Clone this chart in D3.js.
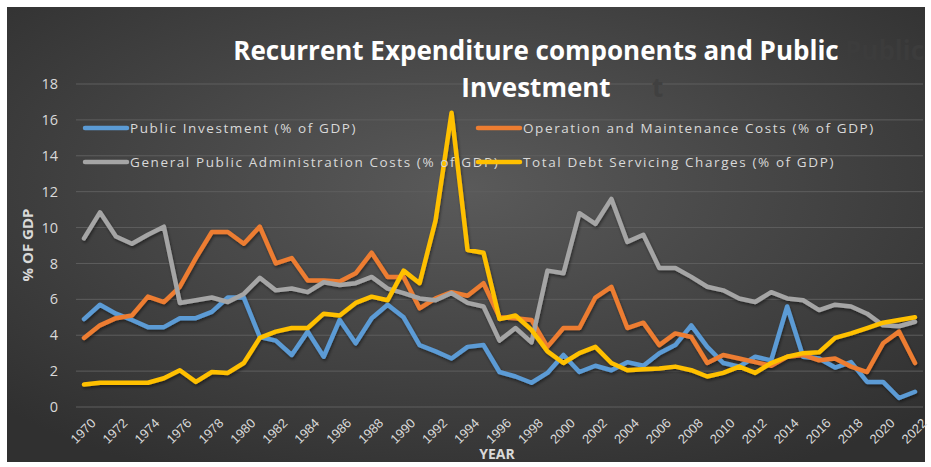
<!DOCTYPE html>
<html>
<head>
<meta charset="utf-8">
<script src="https://cdn.jsdelivr.net/npm/d3@7"></script>
<style>
  body { margin: 0; background: #fff; }
  svg { display: block; font-family: "Open Sans", sans-serif; }
</style>
</head>
<body>
<svg id="chart" width="931" height="467"></svg>
<script>
var years = d3.range(1970, 2023);
var tickYears = d3.range(1970, 2023, 2);
var yTicks = d3.range(0, 19, 2);

var publicInvestment = [4.9, 5.7, 5.2, 4.85, 4.45, 4.45, 4.95, 4.95, 5.3, 6.1,
    6.1, 3.9, 3.7, 2.9, 4.2, 2.8, 4.85, 3.55, 4.95, 5.7,
    5.0, 3.45, 3.1, 2.7, 3.35, 3.45, 1.95, 1.7, 1.35, 1.9,
    2.9, 1.95, 2.3, 2.05, 2.5, 2.3, 3.0, 3.45, 4.55, 3.35,
    2.45, 2.25, 2.8, 2.6, 5.6, 2.8, 2.7, 2.2, 2.5, 1.4,
    1.4, 0.5, 0.85];
var operationMaintenance = [3.85, 4.55, 4.95, 5.1, 6.15, 5.85, 6.7, 8.3, 9.75, 9.75,
    9.1, 10.05, 8.0, 8.3, 7.05, 7.05, 7.0, 7.45, 8.6, 7.25,
    7.25, 5.5, 6.05, 6.4, 6.2, 6.9, 5.0, 4.95, 4.85, 3.35,
    4.4, 4.4, 6.1, 6.7, 4.4, 4.7, 3.45, 4.1, 3.9, 2.45,
    2.9, 2.7, 2.5, 2.3, 2.8, 2.9, 2.6, 2.7, 2.25, 1.95,
    3.55, 4.2, 2.45];
var generalAdmin = [9.4, 10.85, 9.5, 9.1, 9.6, 10.05, 5.8, 5.95, 6.1, 5.85,
    6.3, 7.2, 6.5, 6.6, 6.4, 6.95, 6.8, 6.9, 7.25, 6.6,
    6.35, 6.05, 5.95, 6.35, 5.8, 5.6, 3.7, 4.4, 3.6, 7.6,
    7.45, 10.8, 10.2, 11.6, 9.2, 9.6, 7.75, 7.75, 7.25, 6.7,
    6.5, 6.05, 5.85, 6.4, 6.05, 5.95, 5.4, 5.7, 5.6, 5.2,
    4.55, 4.5, 4.75];
var debtServicing = [1.25, 1.35, 1.35, 1.35, 1.35, 1.6, 2.05, 1.4, 1.95, 1.9,
    2.45, 3.85, 4.2, 4.4, 4.4, 5.2, 5.1, 5.8, 6.15, 5.95,
    7.6, 6.9, 10.4, 16.4, 8.75, 8.6, 4.9, 5.1, 4.3, 3.1,
    2.45, 3.0, 3.35, 2.45, 2.05, 2.1, 2.15, 2.25, 2.05, 1.7,
    1.9, 2.25, 1.9, 2.45, 2.8, 3.0, 3.05, 3.85, 4.1, 4.4,
    4.7, 4.85, 5.0];

var seriesNames = ["Public Investment (% of GDP)",
    "Operation and Maintenance Costs (% of GDP)",
    "General Public Administration Costs (% of GDP)",
    "Total Debt Servicing  Charges (% of GDP)"];
var seriesColors = ["#5b9bd5", "#ed7d31", "#a5a5a5", "#ffc000"];
var seriesValues = [publicInvestment, operationMaintenance, generalAdmin, debtServicing];

var svg = d3.select("#chart");
var defs = svg.append("defs");

var grad = defs.append("radialGradient").attr("id", "bg")
    .attr("cx", "50%").attr("cy", "40%").attr("r", "70%");
grad.append("stop").attr("offset", "0%").attr("stop-color", "#5a5a5a");
grad.append("stop").attr("offset", "100%").attr("stop-color", "#303030");

var shadow = defs.append("filter").attr("id", "shadow")
    .attr("x", "-5%").attr("y", "-5%").attr("width", "110%").attr("height", "110%");
shadow.append("feDropShadow").attr("dx", 1).attr("dy", 2)
    .attr("stdDeviation", 1.5).attr("flood-color", "#000").attr("flood-opacity", 0.45);

defs.append("clipPath").attr("id", "frame")
    .append("rect").attr("x", 7).attr("y", 7).attr("width", 918).attr("height", 455);

svg.append("rect").attr("x", 7).attr("y", 7).attr("width", 918).attr("height", 455)
    .attr("fill", "url(#bg)");

var x = d3.scalePoint().domain(years).range([76, 923]).padding(0.5);
var y = d3.scaleLinear().domain([0, 18]).range([407, 84]);

// gridlines
svg.append("g").selectAll("line").data(yTicks).join("line")
    .attr("x1", 76).attr("x2", 923)
    .attr("y1", function (d) { return y(d); })
    .attr("y2", function (d) { return y(d); })
    .attr("stroke", "#5e5e5e").attr("stroke-width", 1);

// y axis
var yAxis = svg.append("g").attr("transform", "translate(60,0)")
    .call(d3.axisLeft(y).tickValues(yTicks).tickSize(0).tickPadding(2));
yAxis.select(".domain").remove();
yAxis.selectAll("text").attr("fill", "#d9d9d9").style("font-size", "14.5px")
    .style("font-family", "Open Sans");

// x axis
var xAxis = svg.append("g").attr("transform", "translate(0,407)")
    .call(d3.axisBottom(x).tickValues(tickYears).tickSize(0));
xAxis.select(".domain").remove();
xAxis.selectAll("text")
    .attr("fill", "#d9d9d9").style("font-size", "13px")
    .attr("text-anchor", "end")
    .attr("dy", null).attr("y", 0)
    .attr("transform", "translate(12,17) rotate(-45)");

// lines
var line = d3.line()
    .x(function (d, i) { return x(years[i]); })
    .y(function (d) { return y(d); });

svg.append("g").attr("filter", "url(#shadow)")
    .selectAll("path").data(seriesValues).join("path")
    .attr("d", line)
    .attr("fill", "none")
    .attr("stroke", function (d, i) { return seriesColors[i]; })
    .attr("stroke-width", 4.5)
    .attr("stroke-linejoin", "round")
    .attr("stroke-linecap", "round");

// legend
var legendPos = [[85, 128], [478, 128], [85, 162], [478, 162]];
var legend = svg.append("g").selectAll("g").data(seriesNames).join("g")
    .attr("transform", function (d, i) { return "translate(" + legendPos[i][0] + "," + legendPos[i][1] + ")"; });
legend.append("text")
    .attr("x", 45).attr("y", 5)
    .attr("fill", "#d9d9d9").style("font-size", "13.5px")
    .style("letter-spacing", "1.6px")
    .text(function (d) { return d; });
legend.append("line")
    .attr("x1", 0).attr("x2", 42)
    .attr("stroke", function (d, i) { return seriesColors[i]; })
    .attr("stroke-width", 4.5).attr("stroke-linecap", "round");

// faint ghost fragments behind the title
svg.append("text").attr("x", 845).attr("y", 60).attr("clip-path", "url(#frame)")
    .attr("fill", "#3c3c3c").style("font-size", "26px").style("font-weight", "bold")
    .text("Public");
svg.append("text").attr("x", 652).attr("y", 97)
    .attr("fill", "#404040").style("font-size", "26px").style("font-weight", "bold")
    .text("t");

// title
var titleLines = ["Recurrent Expenditure components and Public", "Investment"];
svg.selectAll(".title").data(titleLines).join("text")
    .attr("class", "title")
    .attr("x", 536).attr("y", function (d, i) { return 60 + i * 37; })
    .attr("text-anchor", "middle")
    .attr("fill", "#ffffff").style("font-size", "26px").style("font-weight", "bold")
    .text(function (d) { return d; });

// axis titles
svg.append("text")
    .attr("transform", "translate(33,245) rotate(-90)")
    .attr("text-anchor", "middle")
    .attr("fill", "#d9d9d9").style("font-size", "15px").style("font-weight", "bold")
    .text("% OF GDP");
svg.append("text")
    .attr("x", 497).attr("y", 459).attr("text-anchor", "middle")
    .attr("fill", "#d9d9d9").style("font-size", "14px").style("font-weight", "bold")
    .text("YEAR");
</script>
</body>
</html>
